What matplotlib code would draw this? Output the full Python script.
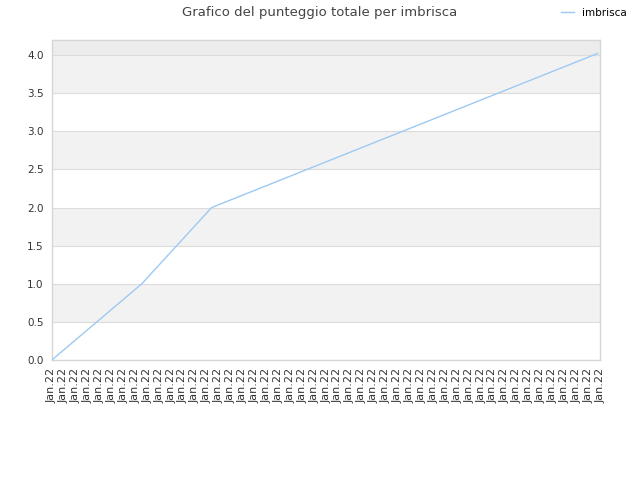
import matplotlib
matplotlib.use("Agg")
import matplotlib.pyplot as plt

# data
player = "imbrisca"
title = "Grafico del punteggio totale per imbrisca"
tick_labels = ["Jan.22"] * 47
# x positions in tick units (ticks at 0..46)
x_pos = [0, 7.55, 13.4, 45.75]
scores = [0.0, 1.0, 2.0, 4.02]

plt.rcParams['font.family'] = ['DejaVu Sans']

fig = plt.figure(figsize=(6.4, 4.8), dpi=100)
ax = fig.add_axes([0.081, 0.25, 0.857, 0.667])

# alternating bands
band_lo = [0.5, 1.5, 2.5, 3.5]
for lo in band_lo:
    ax.axhspan(lo, lo + 0.5, color="#f2f2f2", zorder=0, lw=0)
ax.axhspan(4.0, 4.2, color="#ececec", zorder=0, lw=0)

for v in [0.5, 1.0, 1.5, 2.0, 2.5, 3.0, 3.5, 4.0]:
    ax.axhline(v, color="#dcdcdc", lw=0.8, zorder=1)

line, = ax.plot(x_pos, scores, color="#9ec9f3", lw=1.0, zorder=3, label=player)

ax.set_xlim(0, 46)
ax.set_ylim(0, 4.2)
ax.set_yticks([0.0, 0.5, 1.0, 1.5, 2.0, 2.5, 3.0, 3.5, 4.0])
ax.set_yticklabels(["0.0", "0.5", "1.0", "1.5", "2.0", "2.5", "3.0", "3.5", "4.0"])
ax.set_xticks(range(len(tick_labels)))
ax.set_xticklabels(tick_labels, rotation=90)
ax.tick_params(axis="both", length=0, labelsize=7.5, colors="#333333")
ax.tick_params(axis="x", pad=6, labelsize=8)
ax.tick_params(axis="y", pad=6)

for s in ax.spines.values():
    s.set_color("#d6d6d6")
    s.set_linewidth(1)

fig.text(0.5, 0.973, title, ha="center", va="center", fontsize=9.5, color="#444444")
fig.legend(handles=[line], loc="center left", bbox_to_anchor=(0.862, 0.973),
           frameon=False, fontsize=7.5, handlelength=1.2, handletextpad=0.8)

fig.savefig("out.png", dpi=100, facecolor="white")
